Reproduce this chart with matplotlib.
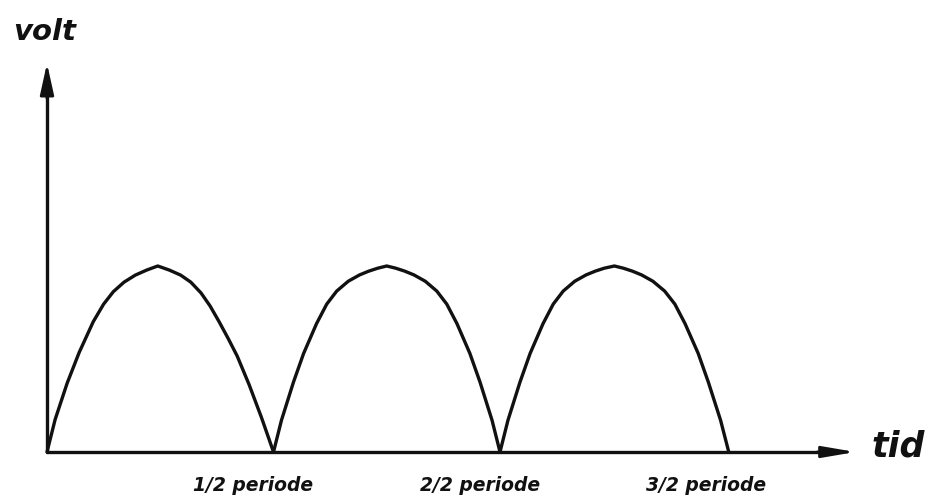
import matplotlib.pyplot as plt

# full-wave rectified voltage
# time in half-periods, voltage normalised to the peak
hump1_t = [0.00, 0.036, 0.089, 0.142, 0.204, 0.25, 0.293, 0.34, 0.39, 0.44, 0.489,
           0.54, 0.59, 0.635, 0.68, 0.72, 0.76, 0.80, 0.84, 0.893, 0.947, 1.00]
hump1_v = [0.00, 0.175, 0.37, 0.535, 0.70, 0.795, 0.862, 0.913, 0.951, 0.978, 1.00,
           0.978, 0.951, 0.913, 0.855, 0.785, 0.70, 0.61, 0.515, 0.36, 0.185, 0.00]

hump2_t = [1.00, 1.035, 1.088, 1.133, 1.19, 1.235, 1.279, 1.33, 1.38, 1.42, 1.46, 1.50,
           1.54, 1.58, 1.62, 1.67, 1.721, 1.765, 1.81, 1.867, 1.912, 1.965, 2.00]
hump2_v = [0.00, 0.17, 0.375, 0.53, 0.69, 0.795, 0.865, 0.918, 0.952, 0.972, 0.988, 1.00,
           0.988, 0.972, 0.952, 0.918, 0.865, 0.795, 0.69, 0.53, 0.375, 0.17, 0.00]

hump3_t = [2.00, 2.035, 2.088, 2.133, 2.19, 2.235, 2.279, 2.33, 2.38, 2.42, 2.46, 2.505,
           2.545, 2.585, 2.625, 2.675, 2.727, 2.772, 2.817, 2.875, 2.92, 2.974, 3.01]
hump3_v = [0.00, 0.17, 0.375, 0.53, 0.69, 0.795, 0.865, 0.918, 0.952, 0.972, 0.988, 1.00,
           0.988, 0.972, 0.952, 0.918, 0.865, 0.795, 0.69, 0.53, 0.375, 0.17, 0.00]

tick_pos = [1, 2, 3]
tick_labels = ['1/2 periode', '2/2 periode', '3/2 periode']

INK = '#111111'
FONT = dict(family='DejaVu Sans', weight='bold', style='italic', color=INK)

fig = plt.figure(figsize=(9.41, 5.04), dpi=100)
ax = fig.add_axes([0, 0, 1, 1])
ax.set_xlim(-0.2075, 3.947)
ax.set_ylim(-0.2796, 2.430)
ax.axis('off')

for t, v in [(hump1_t, hump1_v), (hump2_t, hump2_v), (hump3_t, hump3_v)]:
    ax.plot(t, v, color=INK, lw=2.4, solid_joinstyle='round', solid_capstyle='round')

# hand drawn axes with arrow heads
ax.plot([0, 0], [0, 1.95], color=INK, lw=2.4, solid_capstyle='round')
ax.plot([0, 3.45], [0, 0], color=INK, lw=2.4, solid_capstyle='round')
ax.annotate('', xy=(0, 2.09), xytext=(0, 1.90),
            arrowprops=dict(arrowstyle='-|>,head_length=1.0,head_width=0.22',
                            mutation_scale=19, color=INK, lw=2.0, shrinkA=0, shrinkB=0))
ax.annotate('', xy=(3.57, 0), xytext=(3.40, 0),
            arrowprops=dict(arrowstyle='-|>,head_length=1.0,head_width=0.17',
                            mutation_scale=20, color=INK, lw=2.0, shrinkA=0, shrinkB=0))

ax.text(-0.01, 2.26, 'volt', fontsize=21, ha='center', va='center', **FONT)
ax.text(3.76, 0.03, 'tid', fontsize=25, ha='center', va='center', **FONT)

for pos, lab in zip(tick_pos, tick_labels):
    ax.text(pos - 0.09, -0.18, lab, fontsize=13.5, ha='center', va='center', **FONT)

fig.savefig('out.png', dpi=100, facecolor='white')
